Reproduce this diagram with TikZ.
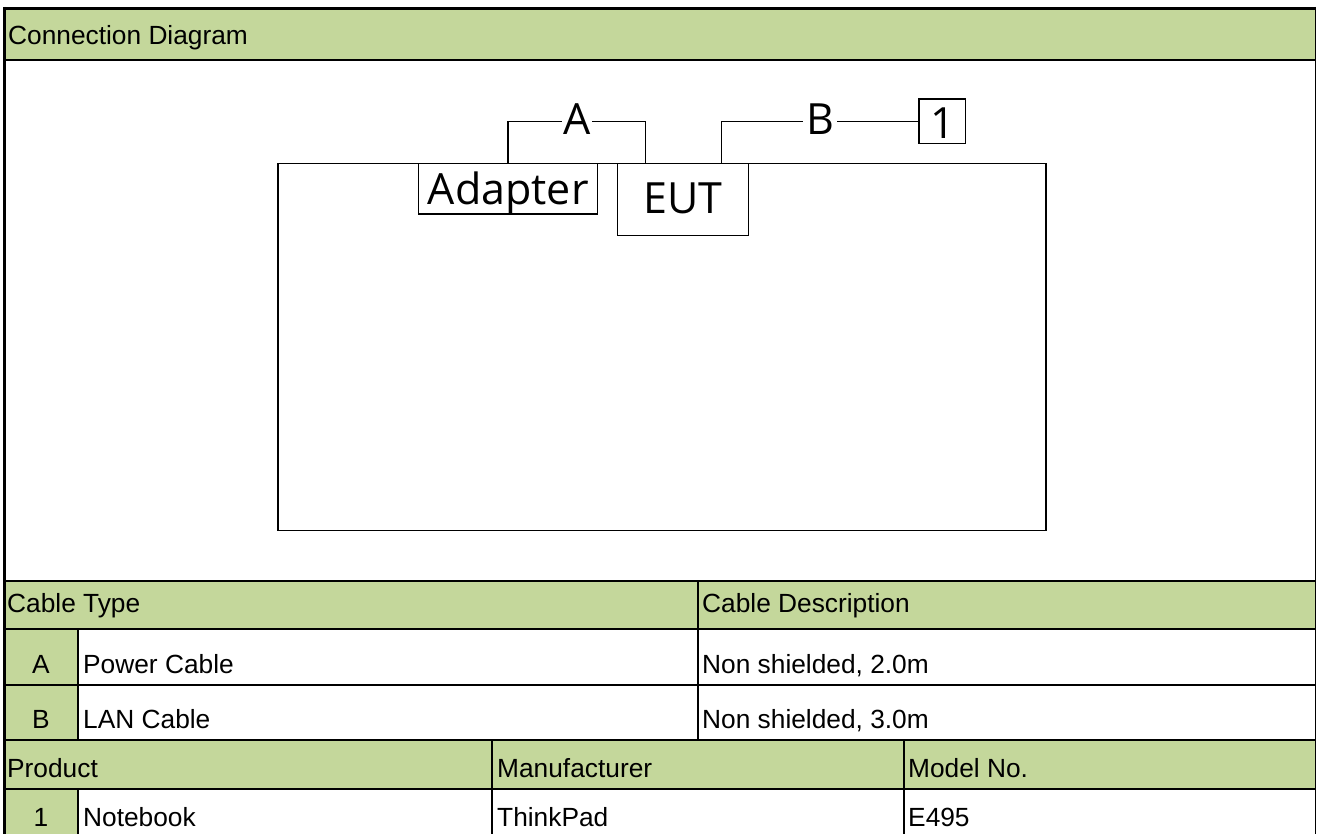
\documentclass[tikz,border=0pt]{standalone}
\usepackage{fontspec}
\setmainfont{Liberation Sans}
\newfontfamily\diafont{Open Sans}
\definecolor{hdr}{HTML}{C4D79B}
\begin{document}
\begin{tikzpicture}[x=1pt,y=-1pt,
  cell/.style={anchor=base west, inner sep=0pt, font=\fontsize{26.3}{30}\selectfont},
  cellc/.style={anchor=base, inner sep=0pt, font=\fontsize{26.3}{30}\selectfont},
  grid/.style={line width=2pt},
  dbox/.style={draw, line width=1.5pt, inner sep=0pt, outer sep=0pt, text depth=0pt, font=\diafont\fontsize{43}{50}\selectfont},
  wire/.style={line width=1.5pt},
  clabel/.style={fill=white, inner ysep=0pt, inner xsep=1.5pt, text height=26pt, text depth=0pt, font=\diafont\fontsize{43}{50}\selectfont}
]
\fill[white] (0,0) rectangle (1317,834);
\useasboundingbox (0,0) rectangle (1317,834);

% green fills
\fill[hdr] (4,8.3) rectangle (1315.5,60.3);
\fill[hdr] (4,580.7) rectangle (1315.5,629.2);
\fill[hdr] (4,629.2) rectangle (78,740);
\fill[hdr] (4,740) rectangle (1315.5,789);
\fill[hdr] (4,789) rectangle (78,836);

% grid lines
\draw[line width=3pt] (3,8.3) -- (1316,8.3);
\draw[grid] (3,60.3) -- (1316,60.3);
\draw[grid] (3,580.7) -- (1316,580.7);
\draw[grid] (3,629.2) -- (1316,629.2);
\draw[grid] (3,685) -- (1316,685);
\draw[grid] (3,740) -- (1316,740);
\draw[grid] (3,789) -- (1316,789);
\draw[grid] (78,629.2) -- (78,740);
\draw[grid] (78,789) -- (78,836);
\draw[grid] (697.7,580.7) -- (697.7,740);
\draw[grid] (492,740) -- (492,836);
\draw[grid] (904,740) -- (904,836);
\draw[line width=3pt] (4.3,7) -- (4.3,836);
\draw[line width=1pt] (1315.5,7) -- (1315.5,836);

% table texts
\node[cell] (tTitle) at (8,44.3) {Connection Diagram};
\node[cell] (tCT) at (7,612) {Cable Type};
\node[cell] (tCD) at (702,612) {Cable Description};
\node[cellc] (tA) at (41,673) {A};
\node[cell] (tPC) at (83,673) {Power Cable};
\node[cell] (tA2) at (702,673) {Non shielded, 2.0m};
\node[cellc] (tB) at (41,728.5) {B};
\node[cell] (tLC) at (83,728.5) {LAN Cable};
\node[cell] (tB2) at (702,728.5) {Non shielded, 3.0m};
\node[cell] (tP) at (7,777) {Product};
\node[cell] (tM) at (497,777) {Manufacturer};
\node[cell] (tMN) at (908,777) {Model No.};
\node[cellc] (t1) at (41,826.5) {1};
\node[cell] (tNB) at (83,826.5) {Notebook};
\node[cell] (tTP) at (497,826.5) {ThinkPad};
\node[cell] (tE) at (908,826.5) {E495};

% diagram
\node[draw, line width=1.5pt, inner sep=0pt, outer sep=0pt, minimum width=768pt, minimum height=367pt, anchor=north west] (room) at (278,163.3) {};
\node[dbox, minimum width=179pt, minimum height=50.7pt, text height=32.7pt] (adapter) at (508.2,188.65) {Adapter};
\node[dbox, minimum width=130.6pt, minimum height=72.4pt, text height=29pt] (eut) at (683,199.5) {EUT};
\node[dbox, minimum width=46.7pt, minimum height=44.6pt, text height=35pt] (one) at (942.3,121.3) {1};

\draw[wire] (adapter.north) -- ++(0,-42) -| node[clabel, pos=0.25] (labA) {A} ([xshift=-37.3pt]eut.north);
\draw[wire] ([xshift=38.7pt]eut.north) |- node[clabel, pos=0.75, inner xsep=3pt] (labB) {B} (one.west);
\end{tikzpicture}
\end{document}
